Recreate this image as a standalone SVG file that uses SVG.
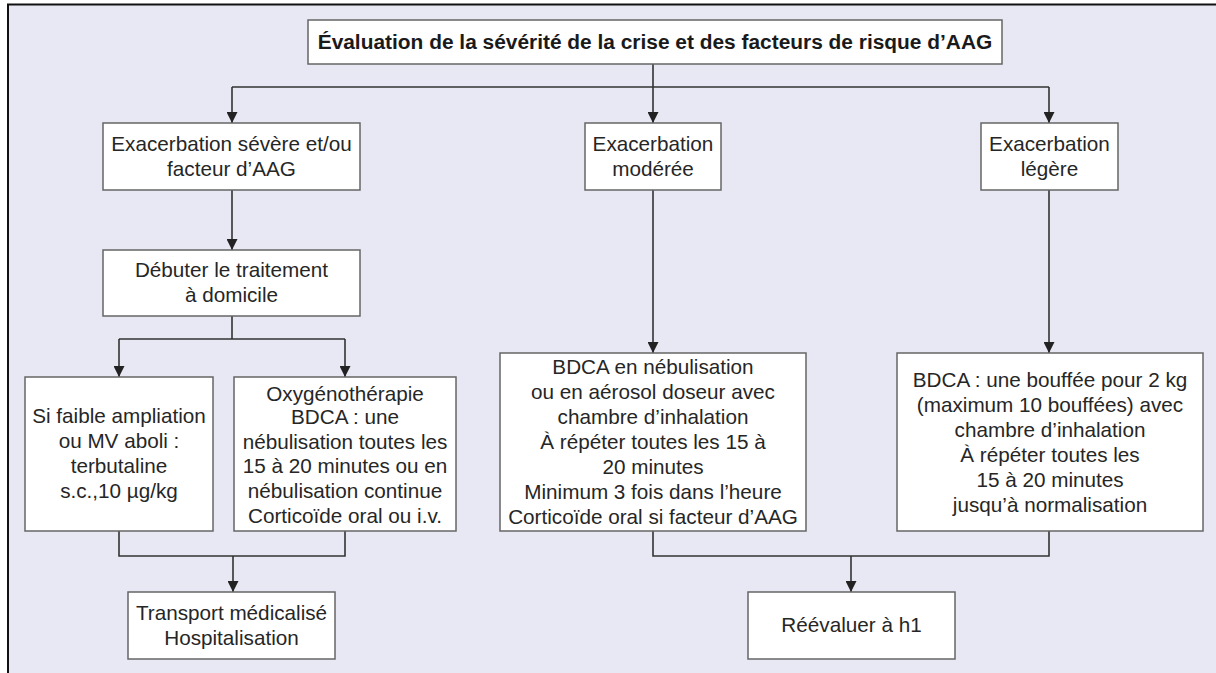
<svg xmlns="http://www.w3.org/2000/svg" width="1216" height="673" viewBox="0 0 1216 673">
<style>
.bg{fill:#e7e8f3}
.frame{fill:none;stroke:#111;stroke-width:2}
.box{fill:#fff;stroke:#666;stroke-width:1.5}
.t{font-family:"Liberation Sans",Arial,Helvetica,sans-serif;font-size:20.7px;fill:#262626;text-anchor:middle}
.tb{font-weight:bold;font-size:20.9px;fill:#1a1a1a}
.c{fill:none;stroke:#333;stroke-width:1.6}
.a{marker-end:url(#ah)}
</style>
<defs>
<marker id="ah" markerUnits="userSpaceOnUse" markerWidth="11" markerHeight="11" refX="10" refY="5" orient="auto" viewBox="0 0 10 10">
<path d="M0,0 L10,5 L0,10 z" fill="#222"/>
</marker>
</defs>
<rect x="0" y="0" width="1216" height="673" fill="#fff"/>
<rect class="bg" x="8" y="4" width="1208" height="669"/>
<path class="frame" d="M8,673 V4.5 H1216"/>

<g id="connectors">
<path class="c" d="M653,64 V87 M232,87 H1049"/>
<path class="c a" d="M232,87 V123"/>
<path class="c a" d="M653,87 V123"/>
<path class="c a" d="M1049,87 V123"/>
<path class="c a" d="M232,190 V250"/>
<path class="c" d="M232,316 V339 M119,339 H345"/>
<path class="c a" d="M119,339 V377"/>
<path class="c a" d="M345,339 V377"/>
<path class="c a" d="M653,190 V353"/>
<path class="c a" d="M1049,190 V353"/>
<path class="c" d="M119,531 V556 H345 V531"/>
<path class="c a" d="M233,556 V592"/>
<path class="c" d="M653,531 V556 H1049 V531"/>
<path class="c a" d="M851,556 V592"/>
</g>

<g id="n-title">
<rect class="box" x="308" y="20" width="694" height="44"/>
<text class="t tb" x="655" y="49">Évaluation de la sévérité de la crise et des facteurs de risque d’AAG</text>
</g>

<g id="n-severe">
<rect class="box" x="103" y="123" width="257" height="67"/>
<text class="t" x="231.5" y="151">Exacerbation sévère et/ou</text>
<text class="t" x="231.5" y="176">facteur d’AAG</text>
</g>

<g id="n-moderee">
<rect class="box" x="585" y="123" width="136" height="67"/>
<text class="t" x="653" y="151">Exacerbation</text>
<text class="t" x="653" y="176">modérée</text>
</g>

<g id="n-legere">
<rect class="box" x="981" y="123" width="137" height="67"/>
<text class="t" x="1049.5" y="151">Exacerbation</text>
<text class="t" x="1049.5" y="176">légère</text>
</g>

<g id="n-debuter">
<rect class="box" x="103" y="250" width="257" height="66"/>
<text class="t" x="231.5" y="277">Débuter le traitement</text>
<text class="t" x="231.5" y="302">à domicile</text>
</g>

<g id="n-sifaible">
<rect class="box" x="25" y="377" width="188" height="154"/>
<text class="t" x="119" y="423">Si faible ampliation</text>
<text class="t" x="119" y="448">ou MV aboli :</text>
<text class="t" x="119" y="473">terbutaline</text>
<text class="t" x="119" y="498">s.c.,10 µg/kg</text>
</g>

<g id="n-oxy">
<rect class="box" x="234" y="377" width="222" height="154"/>
<text class="t" x="345" y="401">Oxygénothérapie</text>
<text class="t" x="345" y="424">BDCA : une</text>
<text class="t" x="345" y="448.5">nébulisation toutes les</text>
<text class="t" x="345" y="473">15 à 20 minutes ou en</text>
<text class="t" x="345" y="498">nébulisation continue</text>
<text class="t" x="345" y="523">Corticoïde oral ou i.v.</text>
</g>

<g id="n-bdca-mod">
<rect class="box" x="500" y="353" width="306" height="178"/>
<text class="t" x="653" y="374">BDCA en nébulisation</text>
<text class="t" x="653" y="399">ou en aérosol doseur avec</text>
<text class="t" x="653" y="424">chambre d’inhalation</text>
<text class="t" x="653" y="449">À répéter toutes les 15 à</text>
<text class="t" x="653" y="474">20 minutes</text>
<text class="t" x="653" y="499">Minimum 3 fois dans l’heure</text>
<text class="t" x="653" y="524">Corticoïde oral si facteur d’AAG</text>
</g>

<g id="n-bdca-leg">
<rect class="box" x="897" y="353" width="306" height="178"/>
<text class="t" x="1050" y="387">BDCA : une bouffée pour 2 kg</text>
<text class="t" x="1050" y="412">(maximum 10 bouffées) avec</text>
<text class="t" x="1050" y="437">chambre d’inhalation</text>
<text class="t" x="1050" y="462">À répéter toutes les</text>
<text class="t" x="1050" y="487">15 à 20 minutes</text>
<text class="t" x="1050" y="512">jusqu’à normalisation</text>
</g>

<g id="n-transport">
<rect class="box" x="128" y="592" width="207" height="67"/>
<text class="t" x="231.5" y="620">Transport médicalisé</text>
<text class="t" x="231.5" y="645">Hospitalisation</text>
</g>

<g id="n-reevaluer">
<rect class="box" x="748" y="592" width="207" height="67"/>
<text class="t" x="851.5" y="632">Réévaluer à h1</text>
</g>
</svg>
